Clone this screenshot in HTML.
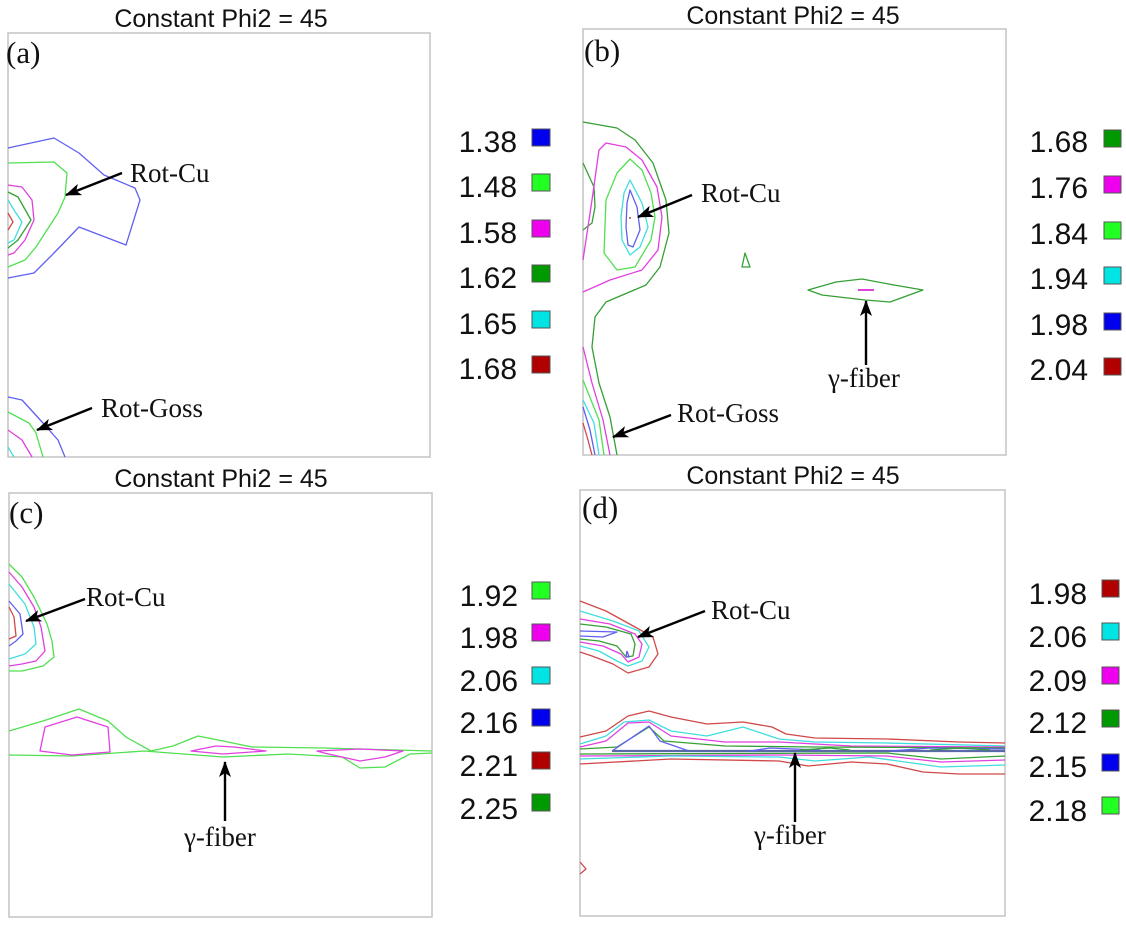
<!DOCTYPE html>
<html><head><meta charset="utf-8"><style>
html,body{margin:0;padding:0;background:#fff;}
svg{display:block;}
.t{font-family:"Liberation Sans",sans-serif;font-size:25px;fill:#111;text-anchor:middle;}
.lg{font-family:"Liberation Sans",sans-serif;font-size:30px;fill:#111;text-anchor:end;}
.s{font-family:"Liberation Serif",serif;font-size:27px;fill:#111;}
.p{font-family:"Liberation Serif",serif;font-size:31px;fill:#111;}
.box{fill:none;stroke:#c4c4c4;stroke-width:1.5;}
.c{fill:none;stroke-width:1.3;stroke-linejoin:round;}
.B{stroke:#6060f0;}.L{stroke:#50e050;}.M{stroke:#e040e0;}.G{stroke:#35a035;}.C{stroke:#40dede;}.R{stroke:#d04848;}
.sq{stroke:#555;stroke-width:1;}
.ar{stroke:#000;stroke-width:2.4;fill:none;}
</style></head><body>
<svg width="1126" height="928" viewBox="0 0 1126 928" xmlns="http://www.w3.org/2000/svg">
<defs><marker id="ah" markerWidth="16" markerHeight="12" refX="15" refY="6" orient="auto" markerUnits="userSpaceOnUse"><path d="M0,0 L16,6 L0,12 L4,6 Z" fill="#000"/></marker></defs>

<!-- Panel a -->
<text class="t" x="221" y="27">Constant Phi2 = 45</text>
<rect class="box" x="8" y="33" width="422" height="424"/>
<text class="p" x="6" y="63">(a)</text>
<polyline class="c B" points="8,148 54,138 79,153 104,175 135,188 140,200 126,245 79,227 54,253 34,273 8,278"/>
<polyline class="c L" points="8,163 54,162 67,173 65,197 58,213 36,247 25,260 8,267"/>
<polyline class="c M" points="8,185 22,187 32,200 34,220 25,240 14,253 8,255"/>
<polyline class="c G" points="8,192 18,197 31,220 18,240 8,248"/>
<polyline class="c C" points="8,200 14,210 22,222 14,240 8,243"/>
<polyline class="c R" points="8,213 13,222 8,230"/>
<polyline class="c B" points="8,397 22,400 43,423 58,440 65,457"/>
<polyline class="c L" points="8,412 29,423 36,433 43,457"/>
<polyline class="c M" points="8,430 22,440 32,457"/>
<polyline class="c C" points="8,447 14,457"/>
<text class="s" x="130" y="182">Rot-Cu</text>
<line class="ar" x1="122" y1="173" x2="66" y2="195" marker-end="url(#ah)"/>
<text class="s" x="101" y="417">Rot-Goss</text>
<line class="ar" x1="92" y1="408" x2="37" y2="430" marker-end="url(#ah)"/>
<g class="lg">
<text x="517" y="152">1.38</text><text x="517" y="197">1.48</text><text x="517" y="243">1.58</text>
<text x="517" y="288">1.62</text><text x="517" y="334">1.65</text><text x="517" y="379">1.68</text></g>
<rect class="sq" x="532" y="129" width="18" height="17" fill="#0000ee"/>
<rect class="sq" x="532" y="174" width="18" height="17" fill="#22ff22"/>
<rect class="sq" x="532" y="220" width="18" height="17" fill="#ee00ee"/>
<rect class="sq" x="532" y="265" width="18" height="17" fill="#009a00"/>
<rect class="sq" x="532" y="311" width="18" height="17" fill="#00e4e4"/>
<rect class="sq" x="532" y="356" width="18" height="17" fill="#b00000"/>

<!-- Panel b -->
<text class="t" x="793" y="24">Constant Phi2 = 45</text>
<rect class="box" x="583" y="29" width="423" height="426"/>
<text class="p" x="584" y="61">(b)</text>
<polyline class="c G" points="583,122 617,128 635,140 653,163 666,200 669,233 660,267 646,285 606,302 595,317 592,347 599,383 610,417 617,455"/>
<polyline class="c G" points="583,163 594,187 595,207 592,223 583,230"/>
<polyline class="c M" points="583,260 592,200 599,150 606,143 626,147 642,160 657,187 662,217 658,250 642,270 610,280 583,292"/>
<polygon class="c L" points="630,159 642,170 651,193 655,217 651,240 635,267 617,270 604,253 606,200 617,173"/>
<polygon class="c C" points="630,180 642,203 648,227 640,247 630,255 622,240 621,217 624,193"/>
<polygon class="c B" points="630,190 637,207 640,230 633,247 628,245 626,227 627,203"/>
<circle cx="630" cy="218" r="1" fill="#d04848"/>
<polygon class="c G" points="745,253 750,267 742,267"/>
<polygon class="c G" points="808,290 836,282 862,279 894,285 923,290 890,302 865,300 822,295"/>
<line class="c M" x1="858" y1="290" x2="874" y2="290" style="stroke-width:2"/>
<polyline class="c M" points="583,347 592,383 603,420 610,455"/>
<polyline class="c L" points="583,380 599,420 604,455"/>
<polyline class="c C" points="583,400 594,423 599,455"/>
<polyline class="c B" points="583,407 590,430 595,455"/>
<polyline class="c R" points="583,423 588,440 592,455"/>
<text class="s" x="701" y="202">Rot-Cu</text>
<line class="ar" x1="692" y1="195" x2="638" y2="217" marker-end="url(#ah)"/>
<text class="s" x="828" y="387">γ-fiber</text>
<line class="ar" x1="866" y1="365" x2="866" y2="301" marker-end="url(#ah)"/>
<text class="s" x="677" y="422">Rot-Goss</text>
<line class="ar" x1="671" y1="415" x2="613" y2="437" marker-end="url(#ah)"/>
<g class="lg">
<text x="1088" y="152">1.68</text><text x="1088" y="198">1.76</text><text x="1088" y="244">1.84</text>
<text x="1088" y="289">1.94</text><text x="1088" y="335">1.98</text><text x="1088" y="380">2.04</text></g>
<rect class="sq" x="1104" y="130" width="17" height="17" fill="#009a00"/>
<rect class="sq" x="1104" y="176" width="17" height="17" fill="#ee00ee"/>
<rect class="sq" x="1104" y="222" width="17" height="17" fill="#22ff22"/>
<rect class="sq" x="1104" y="267" width="17" height="17" fill="#00e4e4"/>
<rect class="sq" x="1104" y="313" width="17" height="17" fill="#0000ee"/>
<rect class="sq" x="1104" y="358" width="17" height="17" fill="#b00000"/>

<!-- Panel c -->
<text class="t" x="221" y="487">Constant Phi2 = 45</text>
<rect class="box" x="9" y="493" width="423" height="424"/>
<text class="p" x="9" y="523">(c)</text>
<polyline class="c L" points="9,564 22,577 34,597 47,624 52,641 54,657 43,666 22,671 9,671"/>
<polyline class="c M" points="9,572 22,587 34,607 41,627 45,651 36,661 22,664 9,666"/>
<polyline class="c C" points="9,584 25,604 34,627 36,644 25,654 9,659"/>
<polyline class="c B" points="9,601 20,614 23,634 16,641 9,646"/>
<polyline class="c R" points="9,607 14,617 16,636 9,639"/>
<polyline class="c L" points="9,731 43,721 79,709 108,721 126,737 151,751 173,746 198,736 223,741 252,747 324,748 396,750 432,751"/>
<polyline class="c L" points="9,755 72,756 144,751 223,757 288,754 342,757 360,768 385,767 410,754 432,753"/>
<polygon class="c M" points="40,751 45,727 77,717 108,727 110,752 72,755"/>
<polygon class="c M" points="191,751 216,746 234,747 266,751 223,754"/>
<polygon class="c M" points="317,751 360,749 403,751 385,757 360,761 324,753"/>
<text class="s" x="86" y="606">Rot-Cu</text>
<line class="ar" x1="85" y1="599" x2="26" y2="621" marker-end="url(#ah)"/>
<text class="s" x="184" y="846">γ-fiber</text>
<line class="ar" x1="225" y1="821" x2="225" y2="762" marker-end="url(#ah)"/>
<g class="lg">
<text x="518" y="606">1.92</text><text x="518" y="648">1.98</text><text x="518" y="691">2.06</text>
<text x="518" y="733">2.16</text><text x="518" y="776">2.21</text><text x="518" y="819">2.25</text></g>
<rect class="sq" x="532" y="582" width="18" height="17" fill="#22ff22"/>
<rect class="sq" x="532" y="624" width="18" height="17" fill="#ee00ee"/>
<rect class="sq" x="532" y="667" width="18" height="17" fill="#00e4e4"/>
<rect class="sq" x="532" y="709" width="18" height="17" fill="#0000ee"/>
<rect class="sq" x="532" y="752" width="18" height="17" fill="#b00000"/>
<rect class="sq" x="532" y="794" width="18" height="17" fill="#009a00"/>

<!-- Panel d -->
<text class="t" x="793" y="484">Constant Phi2 = 45</text>
<rect class="box" x="580" y="490" width="425" height="426"/>
<text class="p" x="582" y="518">(d)</text>
<polyline class="c R" points="580,601 606,611 635,627 653,637 658,654 649,667 628,673 613,664 592,656 580,652"/>
<polyline class="c C" points="580,611 613,621 639,631 649,647 642,661 628,666 617,661 599,651 580,646"/>
<polyline class="c M" points="580,619 610,624 635,634 642,644 639,657 628,662 621,654 603,646 580,642"/>
<polyline class="c G" points="580,624 606,627 631,634 635,644 633,656 626,657 617,646 599,641 580,639"/>
<polyline class="c B" points="580,631 617,632 603,637 580,636"/>
<polyline class="c B" points="627,651 629,657 626,657 627,651"/>
<polyline class="c R" points="580,862 586,869 580,874"/>
<polyline class="c R" points="580,737 606,731 628,716 649,711 671,717 707,724 743,722 772,727 786,734 815,738 887,739 959,742 1005,743"/>
<polyline class="c C" points="580,744 606,736 624,722 649,720 671,731 707,736 743,727 764,734 779,739 815,742 887,743 1005,746"/>
<polyline class="c M" points="580,747 606,741 628,723 649,722 671,736 725,742 779,742 851,746 1005,747"/>
<polyline class="c G" points="580,749 617,747 649,727 664,741 725,746 815,747 1005,748"/>
<polyline class="c B" points="612,751 649,726 660,741 689,751"/>
<line x1="612" y1="751" x2="1005" y2="751" stroke="#5a6aa8" stroke-width="2.2"/>
<polyline class="c B" points="750,751 770,748 820,750"/>
<polyline class="c B" points="890,751 930,748 1005,749"/>
<polyline class="c G" points="800,750 830,748 850,750"/>
<polyline class="c G" points="930,750 960,748 990,750"/>
<polyline class="c G" points="580,754 887,753 941,759 1005,756"/>
<polyline class="c M" points="580,756 779,755 887,756 941,762 1005,760"/>
<polyline class="c C" points="580,759 671,756 779,757 815,761 869,757 905,762 941,767 1005,765"/>
<polyline class="c R" points="580,764 671,759 779,761 808,766 851,762 887,764 923,772 959,774 1005,774"/>
<text class="s" x="711" y="619">Rot-Cu</text>
<line class="ar" x1="705" y1="611" x2="638" y2="637" marker-end="url(#ah)"/>
<text class="s" x="754" y="844">γ-fiber</text>
<line class="ar" x1="795" y1="822" x2="795" y2="753" marker-end="url(#ah)"/>
<g class="lg">
<text x="1087" y="604">1.98</text><text x="1087" y="647">2.06</text><text x="1087" y="691">2.09</text>
<text x="1087" y="733">2.12</text><text x="1087" y="777">2.15</text><text x="1087" y="821">2.18</text></g>
<rect class="sq" x="1102" y="580" width="17" height="17" fill="#b00000"/>
<rect class="sq" x="1102" y="623" width="17" height="17" fill="#00e4e4"/>
<rect class="sq" x="1102" y="667" width="17" height="17" fill="#ee00ee"/>
<rect class="sq" x="1102" y="710" width="17" height="17" fill="#009a00"/>
<rect class="sq" x="1102" y="754" width="17" height="17" fill="#0000ee"/>
<rect class="sq" x="1102" y="797" width="17" height="17" fill="#22ff22"/>
</svg>
</body></html>
